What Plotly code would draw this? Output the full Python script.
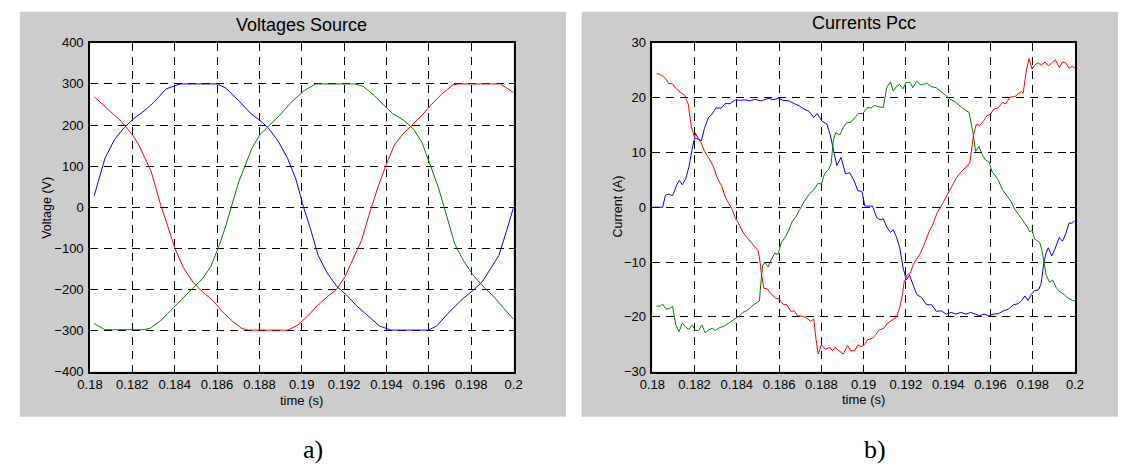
import plotly.graph_objects as go

W, H = 1131, 475

# ---------------- data: Voltages Source (t [s], V) ----------------
volt_blue = [(0.1802, 28), (0.1807, 118), (0.18116, 165), (0.18162, 194), (0.18208, 216),
             (0.18255, 234), (0.18301, 255), (0.1836, 288), (0.18425, 300), (0.18602, 300),
             (0.18641, 290), (0.18703, 259), (0.18757, 229), (0.18803, 211), (0.18842, 193),
             (0.18888, 161), (0.18934, 118), (0.18973, 67), (0.19008, 1), (0.19042, -54),
             (0.19077, -117), (0.1912, -160), (0.19166, -193), (0.19212, -214), (0.19259, -240),
             (0.19313, -265), (0.19367, -289), (0.19421, -299), (0.19598, -299), (0.19637, -289),
             (0.19691, -258), (0.19753, -226), (0.19807, -203), (0.19853, -181), (0.19892, -148),
             (0.19931, -117), (0.19969, -54), (0.2, 0)]
volt_red = [(0.1802, 269), (0.1807, 245), (0.18116, 224), (0.18147, 209), (0.18175, 192),
            (0.18205, 173), (0.18232, 150), (0.18255, 126), (0.18289, 87), (0.18332, 9),
            (0.18366, -46), (0.18402, -101), (0.1844, -146), (0.18487, -183), (0.18533, -207),
            (0.18579, -226), (0.18625, -254), (0.18672, -277), (0.18718, -295), (0.18749, -299),
            (0.18934, -299), (0.18981, -287), (0.19027, -265), (0.19073, -240), (0.1912, -218),
            (0.19166, -199), (0.19205, -168), (0.19243, -124), (0.19282, -81), (0.1932, -15),
            (0.19359, 48), (0.19398, 103), (0.19436, 150), (0.19475, 177), (0.19521, 200),
            (0.19568, 224), (0.19614, 251), (0.1966, 275), (0.19714, 298), (0.19737, 300),
            (0.19938, 300), (0.19969, 290), (0.2, 279)]
volt_green = [(0.1802, -283), (0.1807, -298), (0.18255, -298), (0.18286, -294), (0.18332, -277),
              (0.18378, -254), (0.18432, -225), (0.18487, -196), (0.18533, -173), (0.18571, -144),
              (0.1861, -93), (0.18641, -46), (0.18672, 9), (0.18703, 63), (0.18734, 103),
              (0.18764, 143), (0.18803, 177), (0.18849, 200), (0.18896, 224), (0.1895, 255),
              (0.19012, 284), (0.19066, 300), (0.19251, 300), (0.1929, 294), (0.19344, 271),
              (0.1939, 247), (0.19429, 228), (0.19483, 211), (0.19529, 189), (0.19568, 157),
              (0.19606, 103), (0.19645, 48), (0.19683, -19), (0.19722, -89), (0.19761, -128),
              (0.19807, -164), (0.19853, -191), (0.19907, -218), (0.19954, -246), (0.2, -273)]

# ---------------- data: Currents Pcc (t [s], A) ----------------
cur_red = [(0.18020, 24.4), (0.18039, 24.2), (0.18062, 23.5), (0.18077, 22.6), (0.18096, 22.5),
           (0.18116, 21.5), (0.18139, 20.8), (0.18154, 20.4), (0.18170, 18.8), (0.18185, 14.6),
           (0.18201, 12.6), (0.18221, 12.4), (0.18232, 11.7), (0.18247, 10.2), (0.18270, 8.8),
           (0.18290, 7.3), (0.18309, 5.2), (0.18329, 3.8), (0.18347, 1.7), (0.18368, 0.2),
           (0.18378, -0.4), (0.18394, -2.1), (0.18409, -3.0), (0.18432, -4.8), (0.18456, -5.9),
           (0.18479, -7.0), (0.18502, -8.0), (0.18510, -10.1), (0.18517, -12.4), (0.18528, -14.8),
           (0.18544, -14.9), (0.18564, -15.9), (0.18584, -16.6), (0.18602, -16.8), (0.18618, -17.7),
           (0.18636, -17.8), (0.18656, -19.0), (0.18672, -18.9), (0.18687, -19.8), (0.18710, -19.9),
           (0.18726, -20.1), (0.18749, -20.8), (0.18764, -20.4), (0.18775, -24.2), (0.18785, -26.8),
           (0.18800, -25.1), (0.18819, -25.9), (0.18839, -25.6), (0.18853, -26.2), (0.18865, -25.6),
           (0.18883, -26.2), (0.18903, -26.8), (0.18924, -25.2), (0.18939, -26.2), (0.18958, -26.2),
           (0.18973, -25.1), (0.18988, -25.5), (0.19003, -25.1), (0.19019, -24.2), (0.19042, -23.9),
           (0.19057, -23.3), (0.19073, -22.4), (0.19096, -22.1), (0.19112, -21.2), (0.19135, -20.6),
           (0.19155, -20.1), (0.19171, -18.3), (0.19184, -15.9), (0.19192, -13.6), (0.19205, -12.4),
           (0.19220, -12.1), (0.19236, -10.4), (0.19251, -9.5), (0.19270, -8.3), (0.19290, -6.5),
           (0.19309, -4.5), (0.19329, -3.0), (0.19347, -1.1), (0.19367, 0.2), (0.19388, 1.7),
           (0.19398, 2.4), (0.19414, 3.5), (0.19437, 5.2), (0.19460, 6.4), (0.19484, 7.3),
           (0.19502, 8.0), (0.19510, 10.2), (0.19519, 12.9), (0.19533, 15.1), (0.19549, 14.9),
           (0.19569, 15.8), (0.19584, 16.7), (0.19600, 17.0), (0.19616, 17.9), (0.19636, 18.1),
           (0.19657, 19.1), (0.19673, 18.9), (0.19693, 20.1), (0.19716, 20.2), (0.19732, 20.6),
           (0.19747, 21.1), (0.19755, 20.8), (0.19771, 25.2), (0.19783, 27.1), (0.19797, 25.2),
           (0.19809, 25.9), (0.19825, 26.4), (0.19840, 25.9), (0.19859, 26.5), (0.19874, 25.8),
           (0.19890, 26.3), (0.19907, 26.9), (0.19926, 25.5), (0.19941, 26.5), (0.19957, 26.3),
           (0.19972, 25.4), (0.19988, 25.7), (0.2, 25.4)]
cur_blue = [(0.18000, 0.0), (0.18049, 0.0), (0.18062, 2.2), (0.18077, 2.4), (0.18096, 2.1),
            (0.18116, 4.1), (0.18128, 4.9), (0.18142, 4.1), (0.18158, 5.2), (0.18173, 7.3),
            (0.18188, 10.5), (0.18204, 13.5), (0.18219, 12.4), (0.18232, 12.1), (0.18247, 14.4),
            (0.18266, 16.4), (0.18281, 16.9), (0.18301, 18.1), (0.18327, 18.1), (0.18344, 18.9),
            (0.18368, 18.9), (0.18394, 19.6), (0.18417, 19.5), (0.18440, 19.6), (0.18463, 19.4),
            (0.18486, 19.7), (0.18513, 19.4), (0.18533, 19.6), (0.18553, 19.9), (0.18571, 19.6),
            (0.18599, 19.9), (0.18618, 19.5), (0.18646, 19.4), (0.18672, 18.9), (0.18695, 18.5),
            (0.18718, 17.9), (0.18741, 17.5), (0.18764, 16.4), (0.18780, 17.1), (0.18803, 15.7),
            (0.18826, 15.2), (0.18842, 13.2), (0.18857, 10.5), (0.18873, 7.6), (0.18893, 9.1),
            (0.18914, 6.1), (0.18934, 6.3), (0.18954, 4.9), (0.18973, 3.0), (0.18992, 2.9),
            (0.19006, 0.2), (0.19042, 0.2), (0.19062, -1.9), (0.19078, -2.3), (0.19093, -2.1),
            (0.19109, -3.6), (0.19127, -4.6), (0.19140, -4.1), (0.19155, -5.4), (0.19171, -7.4),
            (0.19186, -10.9), (0.19202, -13.3), (0.19217, -12.4), (0.19233, -14.2), (0.19251, -15.9),
            (0.19274, -16.5), (0.19298, -17.8), (0.19321, -17.8), (0.19344, -19.0), (0.19367, -18.9),
            (0.19391, -19.5), (0.19414, -19.2), (0.19437, -19.5), (0.19460, -19.2), (0.19484, -19.5),
            (0.19507, -19.2), (0.19530, -19.5), (0.19549, -19.8), (0.19569, -19.5), (0.19592, -19.8),
            (0.19616, -19.5), (0.19639, -19.4), (0.19662, -18.9), (0.19685, -18.6), (0.19709, -17.8),
            (0.19732, -17.6), (0.19747, -17.1), (0.19763, -16.2), (0.19778, -17.0), (0.19794, -15.9),
            (0.19809, -15.2), (0.19828, -15.1), (0.19840, -13.9), (0.19853, -10.1), (0.19864, -8.3),
            (0.19874, -7.4), (0.19890, -8.9), (0.19905, -7.7), (0.19926, -5.5), (0.19941, -6.2),
            (0.19957, -4.8), (0.19972, -2.9), (0.19988, -2.9), (0.2, -2.4)]
cur_green = [(0.18020, -18.1), (0.18039, -18.0), (0.18049, -17.7), (0.18065, -18.6), (0.18080, -18.5),
             (0.18096, -18.1), (0.18111, -21.5), (0.18127, -22.7), (0.18142, -21.1), (0.18158, -21.9),
             (0.18173, -22.3), (0.18188, -21.5), (0.18204, -22.5), (0.18219, -22.5), (0.18235, -21.5),
             (0.18250, -22.9), (0.18266, -22.4), (0.18283, -22.1), (0.18298, -22.5), (0.18317, -22.0),
             (0.18340, -21.7), (0.18363, -21.1), (0.18386, -20.5), (0.18409, -19.9), (0.18429, -19.2),
             (0.18451, -18.8), (0.18471, -18.0), (0.18494, -17.4), (0.18507, -17.1), (0.18513, -14.2),
             (0.18522, -10.6), (0.18533, -10.1), (0.18548, -10.9), (0.18564, -9.5), (0.18579, -8.4),
             (0.18595, -8.6), (0.18610, -6.5), (0.18630, -5.4), (0.18646, -4.2), (0.18661, -2.7),
             (0.18680, -1.7), (0.18698, -0.4), (0.18718, 1.0), (0.18741, 2.3), (0.18764, 3.2),
             (0.18785, 4.4), (0.18800, 4.2), (0.18815, 6.1), (0.18834, 6.9), (0.18846, 7.9),
             (0.18857, 12.3), (0.18868, 13.6), (0.18888, 13.2), (0.18903, 14.5), (0.18919, 15.4),
             (0.18939, 15.5), (0.18961, 16.5), (0.18976, 17.1), (0.18996, 17.1), (0.19019, 18.2),
             (0.19037, 18.1), (0.19050, 18.6), (0.19073, 18.3), (0.19093, 18.2), (0.19109, 21.8),
             (0.19127, 22.9), (0.19140, 21.2), (0.19155, 22.0), (0.19171, 22.4), (0.19186, 21.6),
             (0.19202, 22.8), (0.19220, 22.8), (0.19233, 21.8), (0.19251, 23.0), (0.19267, 22.4),
             (0.19282, 22.3), (0.19298, 22.7), (0.19321, 22.0), (0.19344, 21.8), (0.19367, 21.1),
             (0.19391, 20.4), (0.19414, 19.6), (0.19437, 19.1), (0.19460, 18.3), (0.19481, 17.7),
             (0.19499, 17.3), (0.19507, 15.8), (0.19518, 13.5), (0.19530, 10.2), (0.19546, 11.1),
             (0.19561, 9.6), (0.19577, 8.6), (0.19595, 8.2), (0.19608, 6.4), (0.19623, 5.8),
             (0.19639, 4.8), (0.19657, 3.2), (0.19677, 2.2), (0.19698, 1.0), (0.19716, -0.4),
             (0.19735, -1.5), (0.19755, -2.5), (0.19775, -3.6), (0.19786, -4.5), (0.19797, -4.2),
             (0.19809, -5.8), (0.19833, -6.4), (0.19843, -7.7), (0.19853, -10.1), (0.19864, -12.4),
             (0.19880, -13.7), (0.19895, -13.3), (0.19910, -14.6), (0.19930, -15.5), (0.19949, -15.9),
             (0.19967, -16.6), (0.19988, -17.0), (0.2, -17.1)]

# ---------------- ticks ----------------
x_ticks = [0.18, 0.182, 0.184, 0.186, 0.188, 0.19, 0.192, 0.194, 0.196, 0.198, 0.2]
x_tick_labels = ["0.18", "0.182", "0.184", "0.186", "0.188", "0.19", "0.192", "0.194", "0.196", "0.198", "0.2"]
v_ticks = [-400, -300, -200, -100, 0, 100, 200, 300, 400]
i_ticks = [-30, -20, -10, 0, 10, 20, 30]

RED, GREEN, BLUE = "#ff0000", "#008000", "#0000ff"

fig = go.Figure()


def add(series, color, xa, ya):
    fig.add_trace(go.Scatter(x=[p[0] for p in series], y=[p[1] for p in series],
                             mode="lines", line=dict(color=color, width=1),
                             xaxis=xa, yaxis=ya, showlegend=False, hoverinfo="skip"))


add(volt_blue, BLUE, "x", "y")
add(volt_green, GREEN, "x", "y")
add(volt_red, RED, "x", "y")
add(cur_blue, BLUE, "x2", "y2")
add(cur_green, GREEN, "x2", "y2")
add(cur_red, RED, "x2", "y2")

FONT = "Liberation Sans, Arial, sans-serif"

# plot-area pixel boxes
L1, R1 = 78.5, 510.5
L2, R2 = 652, 1083
T, B = 37, 376.5


def dx(a, b):
    return [a / W, b / W]


def dy(t, b):
    return [1 - b / H, 1 - t / H]


axis_common = dict(showgrid=True, gridcolor="#000000", gridwidth=1, griddash="8px,6px",
                   zeroline=False, showline=True, linecolor="#000000", linewidth=1.5,
                   mirror="ticks", ticks="inside", ticklen=5, tickwidth=1, tickcolor="#000000",
                   tickfont=dict(family=FONT, size=13, color="#000000"))

fig.update_layout(
    width=W, height=H, margin=dict(l=0, r=0, t=0, b=0),
    paper_bgcolor="#ffffff", plot_bgcolor="rgba(0,0,0,0)",
    xaxis=dict(domain=dx(L1, R1), range=[0.18, 0.2], tickvals=x_ticks, ticktext=x_tick_labels,
               anchor="y", ticklabelstandoff=0, **axis_common),
    yaxis=dict(domain=dy(T, B), range=[-400, 400], tickvals=v_ticks, anchor="x",
               ticklabelstandoff=2, **axis_common),
    xaxis2=dict(domain=dx(L2, R2), range=[0.18, 0.2], tickvals=x_ticks, ticktext=x_tick_labels,
                anchor="y2", ticklabelstandoff=0, **axis_common),
    yaxis2=dict(domain=dy(T, B), range=[-30, 30], tickvals=i_ticks, anchor="x2",
                ticklabelstandoff=2, **axis_common),
    shapes=[
        dict(type="rect", xref="paper", yref="paper", x0=7 / W, x1=564 / W, y0=1 - 423 / H, y1=1 - 5 / H,
             fillcolor="#cccccc", line=dict(width=0), layer="below"),
        dict(type="rect", xref="paper", yref="paper", x0=580 / W, x1=1127 / W, y0=1 - 423 / H, y1=1 - 5 / H,
             fillcolor="#cccccc", line=dict(width=0), layer="below"),
        dict(type="rect", xref="paper", yref="paper", x0=L1 / W, x1=R1 / W, y0=1 - B / H, y1=1 - T / H,
             fillcolor="#ffffff", line=dict(width=0), layer="below"),
        dict(type="rect", xref="paper", yref="paper", x0=L2 / W, x1=R2 / W, y0=1 - B / H, y1=1 - T / H,
             fillcolor="#ffffff", line=dict(width=0), layer="below"),
    ],
)


def ann(text, x, y, size, angle=0, family=FONT):
    fig.add_annotation(text=text, x=x / W, y=1 - y / H, xref="paper", yref="paper",
                       showarrow=False, textangle=angle, xanchor="center", yanchor="middle",
                       borderpad=0, font=dict(family=family, size=size, color="#000000"))


ann("Voltages Source", (L1 + R1) / 2, 19, 18)
ann("Currents Pcc", (L2 + R2) / 2, 17, 18)
ann("time (s)", (L1 + R1) / 2, 406, 13)
ann("time (s)", (L2 + R2) / 2, 405, 13)
ann("Voltage (V)", 35, 207, 12.5, angle=-90)
ann("Current (A)", 617, 206, 12.5, angle=-90)
ann("a)", 306, 457, 26, family="Liberation Serif, Times New Roman, serif")
ann("b)", 879, 457, 26, family="Liberation Serif, Times New Roman, serif")

fig.write_html("out.html")
